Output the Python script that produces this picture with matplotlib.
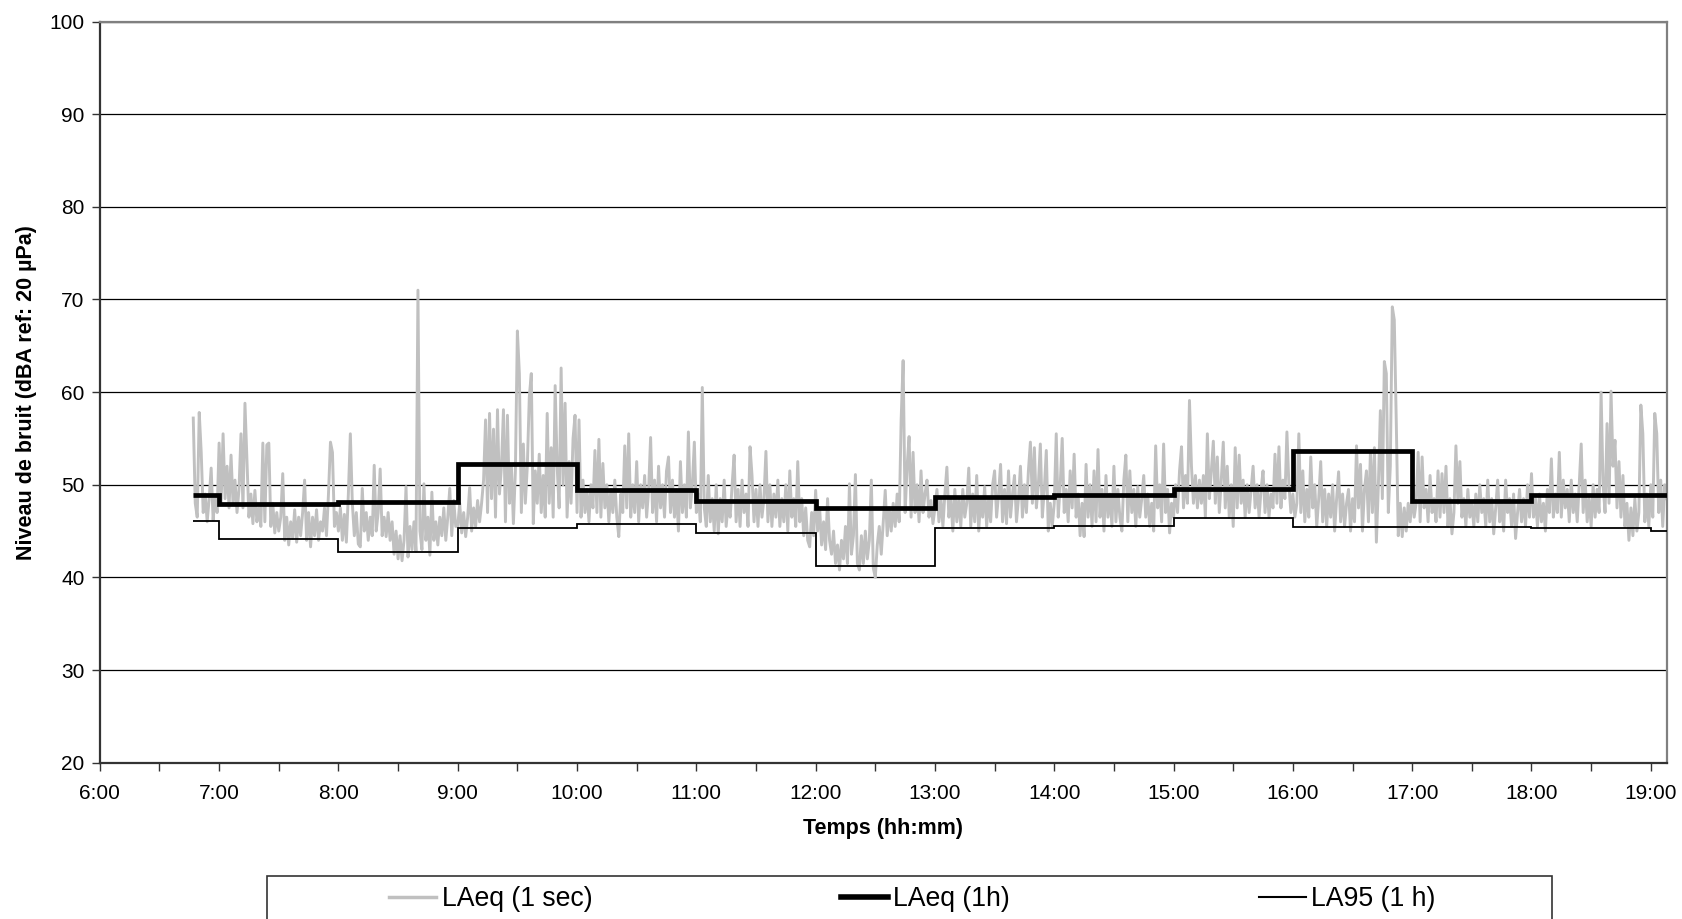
import numpy as np
import matplotlib
matplotlib.use("Agg")
import matplotlib.pyplot as plt
from matplotlib.ticker import MultipleLocator, FuncFormatter
from matplotlib.patches import Rectangle
from matplotlib.lines import Line2D

plt.rcParams['font.family'] = ['Liberation Sans', 'DejaVu Sans']

# ---- data -------------------------------------------------------------
# LAeq (1 sec) series, read as one value per minute, starting at 6:47
start_minute = 47          # minutes after 6:00
h06 = [57.2, 48.0, 46.5, 57.8, 53.5, 47.0, 49.0, 46.0, 48.5, 51.8, 46.2, 48.8, 47.0]
h07 = [54.5, 48.0, 55.5, 48.5, 52.0, 47.5, 53.2, 48.0, 50.5, 47.0,
       49.5, 55.5, 47.5, 58.8, 52.6, 46.5, 49.0, 45.8, 49.4, 46.0,
       47.5, 45.5, 54.5, 46.0, 54.3, 54.5, 45.5, 48.0, 44.8, 47.0,
       45.0, 46.5, 51.2, 44.0, 46.5, 43.5, 46.0, 44.2, 47.3, 43.8,
       46.5, 44.5, 47.0, 50.5, 44.0, 47.0, 43.3, 46.5, 44.5, 47.3,
       44.0, 46.0, 45.0, 47.5, 44.5, 49.0, 54.6, 53.5, 45.5, 47.0]
h08 = [45.0, 47.5, 44.0, 46.8, 43.8, 49.0, 55.5, 48.0, 44.5, 47.0,
       43.6, 43.3, 49.6, 45.0, 47.0, 44.0, 46.5, 44.5, 52.1, 45.0,
       47.0, 51.7, 44.5, 46.5, 44.4, 47.0, 44.0, 46.0, 42.5, 45.0,
       42.0, 44.5, 41.8, 44.0, 49.8, 42.2, 45.5, 43.0, 46.0, 42.8,
       71.0, 45.0, 43.0, 50.1, 44.0, 46.5, 42.4, 49.2, 44.0, 46.0,
       43.5, 46.5, 44.5, 47.5, 44.0, 46.5, 49.6, 44.5, 48.3, 45.5]
h09 = [45.5, 48.0, 44.8, 47.0, 44.4, 46.5, 49.7, 45.0, 47.5, 45.5,
       48.3, 46.0, 48.0, 50.5, 57.0, 47.0, 57.7, 48.5, 56.0, 46.5,
       58.1, 49.0, 52.0, 58.1, 46.0, 57.5, 48.0, 52.0, 45.8, 51.5,
       66.6, 62.0, 47.0, 54.4, 48.0, 52.0, 59.5, 62.0, 45.8, 51.5,
       48.0, 53.3, 47.0, 51.0, 46.5, 57.7, 48.0, 54.0, 46.5, 60.7,
       52.0, 47.5, 62.6, 50.0, 58.8, 46.5, 52.5, 48.0, 55.0, 57.5]
h10 = [47.0, 57.0, 46.5, 50.5, 47.0, 49.5, 46.0, 50.0, 47.5, 53.7,
       47.0, 54.9, 46.5, 52.3, 47.5, 50.0, 46.0, 49.5, 47.0, 50.5,
       46.5, 44.4, 49.0, 47.0, 54.2, 47.5, 55.5, 46.5, 50.0, 47.0,
       52.5, 46.0, 50.0, 47.5, 51.0, 46.5, 49.5, 55.1, 47.0, 50.5,
       46.0, 52.0, 47.5, 50.0, 46.5, 51.5, 53.0, 47.0, 50.5, 46.5,
       49.5, 45.0, 52.5, 47.0, 50.0, 46.5, 55.7, 47.5, 50.0, 54.6]
h11 = [47.0, 49.0, 46.0, 60.5, 47.5, 45.5, 51.0, 46.0, 48.5, 45.0,
       50.0, 44.7, 48.5, 46.0, 50.5, 45.5, 48.0, 46.5, 50.0, 53.2,
       46.0, 49.5, 45.5, 50.5, 47.0, 49.0, 45.5, 54.1, 51.0, 46.0,
       49.5, 45.5, 50.0, 46.5, 48.5, 53.6, 46.0, 50.0, 45.5, 49.0,
       46.5, 50.5, 45.5, 48.5, 46.0, 50.0, 45.0, 51.5, 46.5, 48.5,
       45.5, 52.5, 46.0, 48.5, 44.5, 47.5, 44.0, 43.3, 47.0, 44.5]
h12 = [49.4, 45.0, 47.5, 43.5, 46.0, 43.0, 48.5, 44.0, 42.5, 45.0,
       41.5, 43.5, 40.8, 44.0, 42.0, 45.5, 41.5, 50.1, 42.5, 44.5,
       51.1, 41.5, 40.8, 44.5, 41.5, 45.0, 42.0, 44.0, 50.5, 41.0,
       40.0, 43.5, 45.5, 42.5, 46.0, 49.4, 44.5, 47.5, 45.0, 48.0,
       45.5, 49.0, 46.0, 57.0, 63.4, 47.0, 52.0, 55.2, 46.5, 53.5,
       47.0, 50.0, 46.0, 51.5, 47.0, 49.0, 50.5, 46.5, 48.3, 45.8]
h13 = [47.5, 49.5, 46.0, 48.5, 45.5, 49.0, 51.9, 46.5, 48.5, 45.0,
       49.5, 46.0, 48.5, 45.5, 49.5, 46.5, 48.0, 51.8, 45.5, 49.0,
       46.0, 51.0, 45.0, 48.5, 46.5, 49.8, 45.5, 48.5, 46.0, 50.0,
       51.5, 46.5, 49.0, 52.2, 46.0, 49.5, 45.8, 51.5, 46.5, 49.0,
       51.0, 46.0, 48.5, 52.0, 46.5, 50.0, 47.0, 51.5, 54.6, 48.0,
       54.0, 47.5, 50.0, 54.4, 46.5, 49.5, 53.7, 45.0, 48.0, 45.5]
h14 = [48.0, 55.5, 46.5, 50.0, 55.0, 47.0, 49.5, 46.0, 51.5, 47.5,
       53.3, 46.5, 49.0, 44.5, 48.0, 44.4, 52.2, 46.5, 50.0, 45.5,
       51.5, 46.0, 53.8, 46.5, 49.5, 45.0, 51.0, 46.5, 49.0, 45.5,
       52.0, 46.0, 49.5, 46.5, 45.0, 50.5, 53.2, 46.0, 51.5, 47.0,
       49.5, 45.5, 49.8, 46.5, 48.5, 51.0, 46.5, 49.0, 45.5, 48.0,
       45.0, 54.2, 47.5, 50.0, 46.0, 54.4, 47.0, 49.5, 44.8, 48.0]
h15 = [46.5, 50.0, 47.0, 51.5, 54.1, 47.5, 51.0, 48.0, 59.1, 52.0,
       48.0, 51.0, 47.5, 50.5, 48.0, 51.0, 46.5, 55.5, 48.5, 51.5,
       54.7, 48.0, 53.0, 47.0, 50.5, 54.6, 47.5, 52.0, 46.5, 50.0,
       45.5, 54.0, 47.5, 53.2, 48.0, 50.5, 46.5, 50.0, 47.0, 49.5,
       52.0, 47.5, 50.0, 46.5, 49.5, 51.5, 47.0, 50.0, 46.5, 49.0,
       47.5, 53.3, 48.0, 54.1, 47.5, 50.5, 48.5, 55.7, 50.0, 47.0]
h16 = [49.0, 46.5, 48.0, 55.5, 47.0, 51.5, 46.0, 49.5, 46.5, 53.0,
       47.5, 50.0, 45.5, 48.5, 52.5, 46.0, 49.5, 45.5, 49.0, 46.5,
       50.0, 45.0, 48.5, 51.4, 46.0, 49.0, 45.5, 48.0, 49.5, 45.0,
       48.5, 46.0, 54.2, 47.5, 52.2, 45.0, 49.5, 51.5, 46.0, 53.5,
       47.0, 54.0, 43.8, 50.0, 58.0, 48.5, 63.3, 62.0, 47.0, 52.0,
       69.2, 67.8, 56.8, 44.5, 48.0, 44.4, 47.5, 45.0, 48.0, 46.0]
h17 = [49.0, 46.5, 48.0, 53.5, 46.0, 53.0, 47.5, 49.5, 46.0, 51.0,
       47.0, 48.5, 46.0, 51.5, 46.5, 51.2, 47.0, 52.0, 45.5, 48.5,
       44.7, 47.0, 54.2, 48.0, 52.5, 46.5, 48.5, 45.5, 49.5, 46.5,
       48.0, 45.5, 49.0, 46.0, 50.0, 47.0, 48.5, 45.5, 50.5, 46.0,
       48.5, 44.7, 47.5, 50.5, 46.0, 48.0, 45.0, 50.5, 47.0, 48.5,
       45.5, 49.0, 44.2, 47.0, 49.5, 46.0, 48.5, 45.5, 50.0, 46.5]
h18 = [51.2, 46.5, 48.5, 45.5, 49.0, 46.0, 48.0, 45.0, 49.5, 47.0,
       52.8, 46.5, 49.0, 47.0, 53.5, 46.5, 50.5, 47.5, 49.5, 46.0,
       50.5, 47.0, 49.0, 46.0, 50.0, 54.4, 47.0, 50.5, 46.0, 48.5,
       45.5, 50.0, 46.5, 49.5, 47.0, 60.0, 50.0, 47.0, 56.6, 48.0,
       60.1, 52.0, 54.8, 47.5, 52.5, 46.5, 51.0, 45.5, 48.0, 44.0,
       47.5, 44.5, 48.5, 45.0, 47.0, 58.6, 55.5, 46.0, 49.0, 45.5,
       50.0, 46.5, 57.7, 55.5, 47.0, 50.5, 45.5, 50.0, 48.5]

# hourly step series: boundaries (hours) and levels
hour_edges = [6 + 47 / 60, 7, 8, 9, 10, 11, 12, 13, 14, 15, 16, 17, 18, 19, 19 + 8 / 60]
laeq_1h = [48.9, 47.9, 48.1, 52.2, 49.4, 48.3, 47.5, 48.7, 48.9, 49.5, 53.6, 48.2, 48.9, 48.9]
la95_1h = [46.1, 44.1, 42.7, 45.3, 45.8, 44.8, 41.2, 45.3, 45.5, 46.4, 45.4, 45.4, 45.3, 45.0]

y_ticks = [20, 30, 40, 50, 60, 70, 80, 90, 100]
x_range = (6, 19 + 8 / 60)

labels = ["LAeq (1 sec)", "LAeq (1h)", "LA95 (1 h)"]

# ---- plot -------------------------------------------------------------
laeq_1s = np.array(h06 + h07 + h08 + h09 + h10 + h11 + h12 + h13 + h14 + h15 + h16 + h17 + h18)
t_hours = 6 + (start_minute + np.arange(len(laeq_1s))) / 60.0

W, H = 1682, 919
fig = plt.figure(figsize=(W / 100, H / 100), dpi=100)
ax = fig.add_axes([99.8 / W, 1 - 762.7 / H, (1666.7 - 99.8) / W, (762.7 - 21.5) / H])

ax.plot(t_hours, laeq_1s, color='#C0C0C0', lw=2.1, label=labels[0], zorder=2)
ax.stairs(la95_1h, hour_edges, baseline=None, color='black', lw=1.3, zorder=3)
ax.stairs(laeq_1h, hour_edges, baseline=None, color='black', lw=3.4, zorder=4)

ax.set_xlim(*x_range)
ax.set_ylim(y_ticks[0], y_ticks[-1])
ax.set_yticks(y_ticks)
ax.yaxis.grid(True, color='black', lw=0.9)
ax.set_axisbelow(True)

ax.xaxis.set_major_locator(MultipleLocator(1))
ax.xaxis.set_minor_locator(MultipleLocator(0.5))
ax.xaxis.set_major_formatter(FuncFormatter(lambda v, p: f"{int(round(v))}:00"))
ax.tick_params(axis='both', which='both', direction='out', length=6, width=1.0,
               color='#333333', labelsize=15)
ax.tick_params(axis='x', which='both', pad=9)
ax.tick_params(axis='y', pad=5)

for side in ['left', 'bottom']:
    ax.spines[side].set_color('#333333')
    ax.spines[side].set_linewidth(1.6)
for side in ['top', 'right']:
    ax.spines[side].set_color('#808080')
    ax.spines[side].set_linewidth(1.6)

ax.set_xlabel("Temps (hh:mm)", fontsize=15.5, fontweight='bold', labelpad=11)
ax.set_ylabel("Niveau de bruit (dBA ref: 20 µPa)", fontsize=15.5, fontweight='bold', labelpad=9)

# legend
handles = [Line2D([], [], color='#C0C0C0', lw=2.5),
           Line2D([], [], color='black', lw=4),
           Line2D([], [], color='black', lw=1.5)]
fig.legend(handles, labels, loc='center left',
           bbox_to_anchor=(389 / W, 1 - 899 / H), ncol=3, frameon=False,
           fontsize=19.2, handlelength=1.78, handletextpad=0.2,
           columnspacing=9.31, borderpad=0, borderaxespad=0)
fig.add_artist(Rectangle((267 / W, -0.05), (1552 - 267) / W, 0.05 + (H - 876) / H,
                         transform=fig.transFigure, fill=False, edgecolor='#333333', lw=1.2))

fig.savefig("out.png", dpi=100, facecolor='white')
